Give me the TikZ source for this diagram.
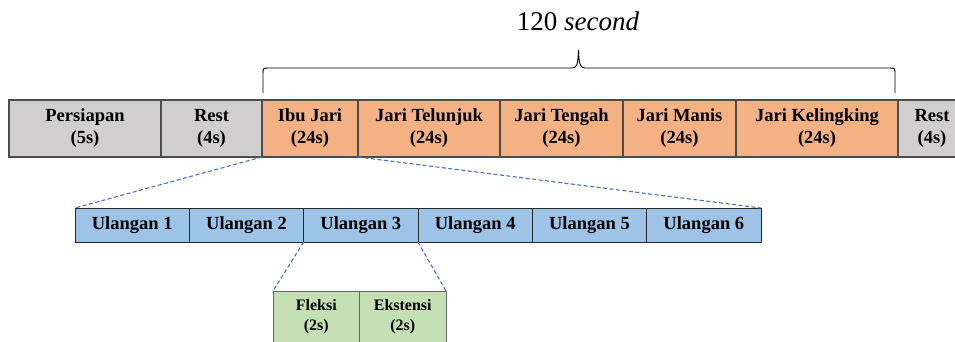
\documentclass[tikz,border=0pt]{standalone}
\usepackage{fontspec}
\setmainfont{Liberation Serif}
\begin{document}
\begin{tikzpicture}[x=1pt,y=-1pt,
  cell/.style={draw=black!70, line width=1.1pt, anchor=north west, inner sep=0pt, outer sep=0pt,
    minimum height=57, align=center, font=\bfseries\fontsize{18.5}{22}\selectfont},
  ucell/.style={draw=black!85, line width=0.9pt, anchor=north west, inner sep=0pt, outer sep=0pt,
    minimum height=34, minimum width=114.33, fill=ublue, font=\bfseries\fontsize{18.5}{22}\selectfont},
  fcell/.style={draw=black!60, line width=1pt, anchor=north west, inner sep=0pt, outer sep=0pt,
    minimum height=52, minimum width=86.5, fill=fgreen, align=center, font=\bfseries\fontsize{16}{20}\selectfont},
  celltext/.style={align=center, inner sep=0pt, font=\bfseries\fontsize{18.5}{22}\selectfont},
  zoomline/.style={draw=dblue, line width=1.1pt, dash pattern=on 4pt off 2.5pt}]
\definecolor{cgrey}{HTML}{D0CECE}
\definecolor{corange}{HTML}{F4B183}
\definecolor{ublue}{HTML}{9DC3E6}
\definecolor{fgreen}{HTML}{C5E0B4}
\definecolor{dblue}{HTML}{4472C4}
\useasboundingbox (0,0) rectangle (955,341);
% top row
\node[cell, fill=cgrey, minimum width=152] (p) at (9,100) {Persiapan\\(5s)};
\node[cell, fill=cgrey, minimum width=101] (r1) at (161,100) {Rest\\(4s)};
\node[cell, fill=corange, minimum width=96] (ibu) at (262,100) {Ibu Jari\\(24s)};
\node[cell, fill=corange, minimum width=142] (tel) at (358,100) {Jari Telunjuk\\(24s)};
\node[cell, fill=corange, minimum width=123] (ten) at (500,100) {Jari Tengah\\(24s)};
\node[cell, fill=corange, minimum width=113] (man) at (623,100) {Jari Manis\\(24s)};
\node[cell, fill=corange, minimum width=162] (kel) at (736,100) {Jari Kelingking\\(24s)};
\node[cell, fill=cgrey, minimum width=70] (r2) at (898,100) {};
\node[celltext] (r2t) at (932,128.5) {Rest\\(4s)};
% brace
\draw[line width=0.9pt] (263,93) -- (263,74) .. controls (263,68) .. (269,68) -- (572,68)
  .. controls (577,68) and (578,64) .. (578.5,50) .. controls (579,64) and (580,68) .. (585,68)
  -- (889,68) .. controls (895,68) .. (895,74) -- (895,93);
\node[font=\fontsize{27}{30}\selectfont] (lbl) at (578,21) {120 \textit{second}};
% ulangan row
\node[ucell] (u1) at (75,208) {Ulangan 1};
\node[ucell] (u2) at (u1.north east) {Ulangan 2};
\node[ucell] (u3) at (u2.north east) {Ulangan 3};
\node[ucell] (u4) at (u3.north east) {Ulangan 4};
\node[ucell] (u5) at (u4.north east) {Ulangan 5};
\node[ucell] (u6) at (u5.north east) {Ulangan 6};
% green row
\node[fcell] (fl) at (273,291) {Fleksi\\(2s)};
\node[fcell] (ek) at (fl.north east) {Ekstensi\\(2s)};
% zoom lines
\draw[zoomline] (ibu.south west) -- (u1.north west);
\draw[zoomline] (ibu.south east) -- (u6.north east);
\draw[zoomline] (u3.south west) -- (fl.north west);
\draw[zoomline] (u3.south east) -- (ek.north east);
\end{tikzpicture}
\end{document}
